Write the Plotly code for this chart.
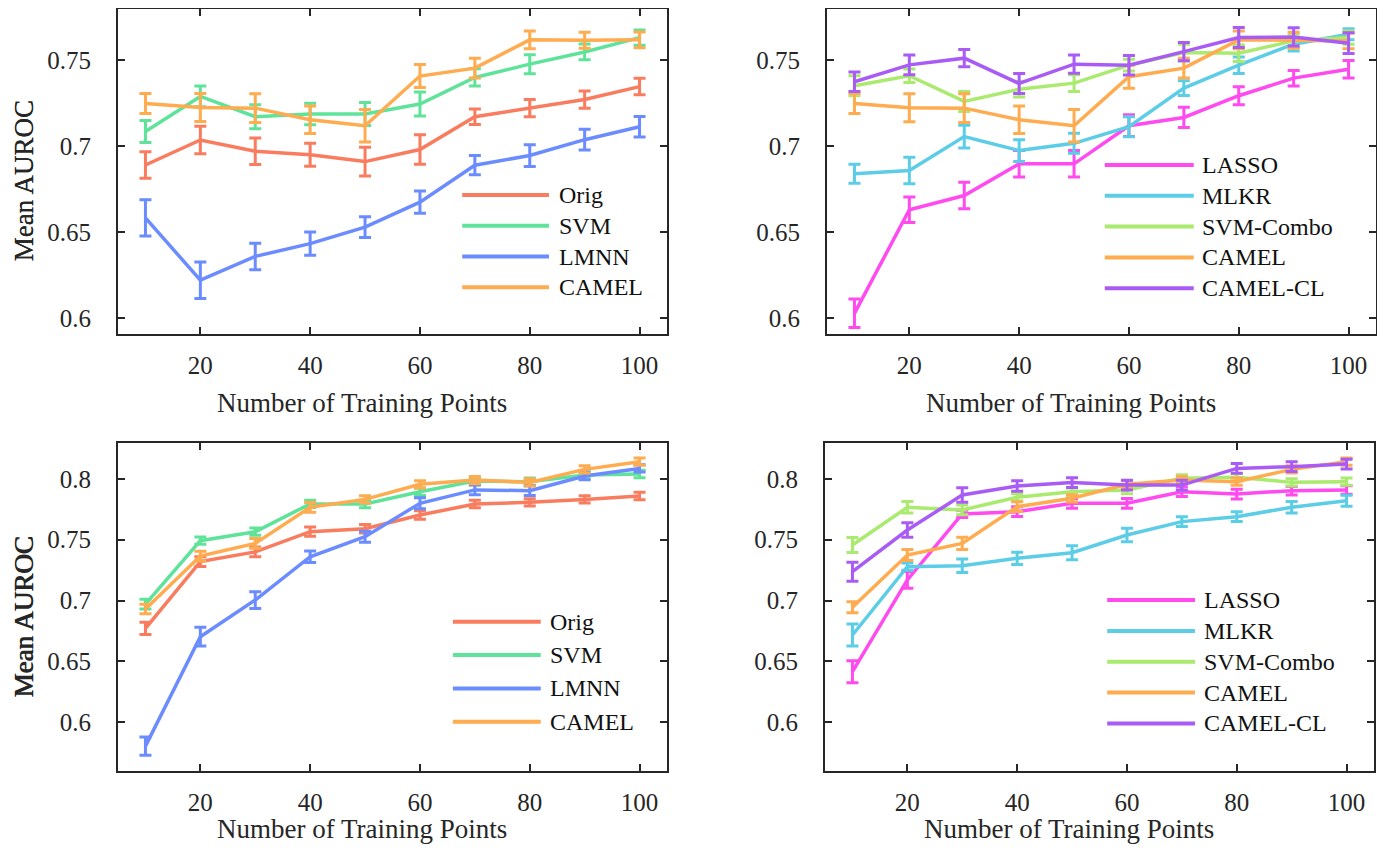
import plotly.graph_objects as go

# ---------------- data ----------------
X = [10, 20, 30, 40, 50, 60, 70, 80, 90, 100]
X_TICKS = [20, 40, 60, 80, 100]
Y_TICKS_TOP = [0.6, 0.65, 0.7, 0.75]
Y_TICKS_BOT = [0.6, 0.65, 0.7, 0.75, 0.8]

# top-left panel
TL_NAMES = ["Orig", "SVM", "LMNN", "CAMEL"]
TL_ORIG = [0.689, 0.7035, 0.697, 0.695, 0.691, 0.698, 0.717, 0.722, 0.727, 0.7345]
TL_ORIG_ERR = [0.0077, 0.008, 0.0077, 0.0067, 0.0083, 0.0086, 0.0045, 0.005, 0.005, 0.0048]
TL_SVM = [0.7085, 0.7288, 0.717, 0.7186, 0.7186, 0.7244, 0.7398, 0.7475, 0.7546, 0.7629]
TL_SVM_ERR = [0.0064, 0.006, 0.007, 0.0063, 0.0067, 0.007, 0.005, 0.0055, 0.0046, 0.0044]
TL_LMNN = [0.6584, 0.6222, 0.636, 0.6434, 0.653, 0.6675, 0.6889, 0.6945, 0.7037, 0.7112]
TL_LMNN_ERR = [0.0105, 0.0106, 0.0077, 0.0067, 0.006, 0.0065, 0.0056, 0.0063, 0.006, 0.006]
TL_CAMEL = [0.7247, 0.7224, 0.722, 0.7153, 0.7118, 0.7406, 0.7452, 0.7616, 0.7614, 0.7616]
TL_CAMEL_ERR = [0.0058, 0.0081, 0.0083, 0.008, 0.0094, 0.0067, 0.0057, 0.0051, 0.0046, 0.0046]

# top-right panel
TR_NAMES = ["LASSO", "MLKR", "SVM-Combo", "CAMEL", "CAMEL-CL"]
TR_LASSO = [0.603, 0.6631, 0.6713, 0.6897, 0.6897, 0.7118, 0.7166, 0.7292, 0.7394, 0.7446]
TR_LASSO_ERR = [0.0083, 0.0074, 0.0077, 0.0077, 0.0077, 0.0063, 0.0059, 0.0052, 0.0045, 0.0051]
TR_MLKR = [0.6839, 0.6858, 0.7055, 0.6974, 0.7016, 0.7112, 0.7336, 0.7469, 0.7591, 0.7648]
TR_MLKR_ERR = [0.0055, 0.0077, 0.0066, 0.0063, 0.0058, 0.0058, 0.0043, 0.0048, 0.0039, 0.0032]
TR_COMBO = [0.735, 0.7408, 0.7259, 0.733, 0.7365, 0.7469, 0.7542, 0.7538, 0.761, 0.7629]
TR_COMBO_ERR = [0.0058, 0.0039, 0.0058, 0.0046, 0.0048, 0.0034, 0.0048, 0.0048, 0.004, 0.0039]
TR_CAMEL = [0.7247, 0.7222, 0.722, 0.7153, 0.7118, 0.7402, 0.7452, 0.7616, 0.7614, 0.761]
TR_CAMEL_ERR = [0.0058, 0.0081, 0.0083, 0.008, 0.0094, 0.0067, 0.0057, 0.0051, 0.0046, 0.0046]
TR_CL = [0.7373, 0.7471, 0.751, 0.7363, 0.7475, 0.7469, 0.7548, 0.7629, 0.7633, 0.7597]
TR_CL_ERR = [0.0057, 0.0057, 0.005, 0.0058, 0.0053, 0.0057, 0.0053, 0.0058, 0.0053, 0.006]

# bottom-left panel
BL_NAMES = ["Orig", "SVM", "LMNN", "CAMEL"]
BL_ORIG = [0.677, 0.732, 0.740, 0.7566, 0.759, 0.7703, 0.7794, 0.7808, 0.7832, 0.786]
BL_ORIG_ERR = [0.005, 0.004, 0.004, 0.0038, 0.0035, 0.0035, 0.003, 0.003, 0.003, 0.003]
BL_SVM = [0.697, 0.7492, 0.7566, 0.7795, 0.7794, 0.7895, 0.7983, 0.7978, 0.8033, 0.8041]
BL_SVM_ERR = [0.004, 0.003, 0.003, 0.003, 0.003, 0.003, 0.003, 0.003, 0.003, 0.003]
BL_LMNN = [0.5802, 0.6702, 0.7004, 0.736, 0.7525, 0.780, 0.791, 0.7904, 0.8024, 0.8087]
BL_LMNN_ERR = [0.0075, 0.0077, 0.0069, 0.0048, 0.0045, 0.0045, 0.004, 0.004, 0.003, 0.003]
BL_CAMEL = [0.693, 0.7366, 0.747, 0.7767, 0.7832, 0.7956, 0.7991, 0.7972, 0.8079, 0.8142]
BL_CAMEL_ERR = [0.004, 0.004, 0.004, 0.004, 0.003, 0.003, 0.003, 0.003, 0.003, 0.003]

# bottom-right panel
BR_NAMES = ["LASSO", "MLKR", "SVM-Combo", "CAMEL", "CAMEL-CL"]
BR_LASSO = [0.6414, 0.7169, 0.7712, 0.7731, 0.780, 0.780, 0.7895, 0.7876, 0.7904, 0.7909]
BR_LASSO_ERR = [0.009, 0.0069, 0.003, 0.004, 0.004, 0.004, 0.004, 0.004, 0.0035, 0.0035]
BR_MLKR = [0.6716, 0.7278, 0.7286, 0.7347, 0.7393, 0.7539, 0.7649, 0.769, 0.7767, 0.7821]
BR_MLKR_ERR = [0.009, 0.003, 0.0055, 0.005, 0.0058, 0.0055, 0.004, 0.004, 0.0048, 0.0045]
BR_COMBO = [0.7457, 0.7767, 0.7745, 0.7849, 0.7895, 0.7909, 0.8005, 0.8014, 0.7972, 0.7978]
BR_COMBO_ERR = [0.0062, 0.0048, 0.004, 0.003, 0.003, 0.003, 0.003, 0.003, 0.003, 0.003]
BR_CAMEL = [0.6944, 0.7374, 0.747, 0.7772, 0.7841, 0.7956, 0.7991, 0.7978, 0.8079, 0.8142]
BR_CAMEL_ERR = [0.0045, 0.0045, 0.005, 0.004, 0.003, 0.003, 0.003, 0.003, 0.003, 0.003]
BR_CL = [0.7237, 0.758, 0.7868, 0.7942, 0.797, 0.795, 0.795, 0.8087, 0.8101, 0.8123]
BR_CL_ERR = [0.0078, 0.006, 0.006, 0.0043, 0.004, 0.004, 0.004, 0.004, 0.004, 0.004]

X_TITLE = "Number of Training Points"
Y_TITLE = "Mean AUROC"

# ---------------- styles ----------------
C_ORIG = "#fa7c5f"
C_SVM = "#5fe39a"
C_LMNN = "#6b8cff"
C_CAMEL = "#ffab4f"
C_LASSO = "#ff4af0"
C_MLKR = "#5ccde6"
C_COMBO = "#aaea6e"
C_CL = "#a95cf5"
FONT = "Liberation Serif"
AX_COLOR = "#262626"

panels = [
    ("", TL_NAMES, [TL_ORIG, TL_SVM, TL_LMNN, TL_CAMEL],
     [TL_ORIG_ERR, TL_SVM_ERR, TL_LMNN_ERR, TL_CAMEL_ERR],
     [C_ORIG, C_SVM, C_LMNN, C_CAMEL],
     dict(x0=0.627, x1=0.785, xt=0.800, y0=0.428, dy=0.0948)),
    ("2", TR_NAMES, [TR_LASSO, TR_MLKR, TR_COMBO, TR_CAMEL, TR_CL],
     [TR_LASSO_ERR, TR_MLKR_ERR, TR_COMBO_ERR, TR_CAMEL_ERR, TR_CL_ERR],
     [C_LASSO, C_MLKR, C_COMBO, C_CAMEL, C_CL],
     dict(x0=0.506, x1=0.668, xt=0.679, y0=0.520, dy=0.0948)),
    ("3", BL_NAMES, [BL_ORIG, BL_SVM, BL_LMNN, BL_CAMEL],
     [BL_ORIG_ERR, BL_SVM_ERR, BL_LMNN_ERR, BL_CAMEL_ERR],
     [C_ORIG, C_SVM, C_LMNN, C_CAMEL],
     dict(x0=0.610, x1=0.770, xt=0.783, y0=0.455, dy=0.1017)),
    ("4", BR_NAMES, [BR_LASSO, BR_MLKR, BR_COMBO, BR_CAMEL, BR_CL],
     [BR_LASSO_ERR, BR_MLKR_ERR, BR_COMBO_ERR, BR_CAMEL_ERR, BR_CL_ERR],
     [C_LASSO, C_MLKR, C_COMBO, C_CAMEL, C_CL],
     dict(x0=0.514, x1=0.674, xt=0.687, y0=0.521, dy=0.094)),
]

# page is 1385x854; the html body has an 8px margin, so the figure is 16px smaller
OFF = 8
W, H = 1385 - 2 * OFF, 854 - 2 * OFF
# panel frames in page pixels
doms_x = [(118, 667), (827, 1376), (118, 667), (825, 1374)]
doms_y = [(9, 334), (9, 334), (443, 771), (443, 771)]
yranges = [(0.591, 0.7795), (0.591, 0.7795), (0.5597, 0.8296), (0.5597, 0.8296)]
yticks = [Y_TICKS_TOP, Y_TICKS_TOP, Y_TICKS_BOT, Y_TICKS_BOT]
xtitle_page_y = [403, 403, 829, 829]
ytitle_page_x = 24

fig = go.Figure()
shapes = []
annotations = []
layout = {}

for i, (suf, names, series, errs, colors, lg) in enumerate(panels):
    xa, ya = "x" + suf, "y" + suf
    for name, ys, es, col in zip(names, series, errs, colors):
        fig.add_trace(go.Scatter(
            x=X, y=ys, name=name, mode="lines", xaxis=xa, yaxis=ya,
            line=dict(color=col, width=3.5),
            error_y=dict(type="data", array=es, visible=True, color=col,
                         thickness=3, width=6),
            showlegend=False,
        ))
    px0, px1 = doms_x[i][0] - OFF, doms_x[i][1] - OFF
    py0, py1 = doms_y[i][0] - OFF, doms_y[i][1] - OFF
    common = dict(showline=True, linecolor=AX_COLOR, linewidth=2, mirror="ticks",
                  ticks="inside", ticklen=7, tickwidth=2, tickcolor=AX_COLOR,
                  showgrid=False, zeroline=False,
                  tickfont=dict(family=FONT, size=25, color=AX_COLOR))
    layout["xaxis" + suf] = dict(common, domain=[px0 / W, px1 / W], range=[5, 105],
                                 tickvals=X_TICKS, anchor=ya, ticklabelstandoff=8)
    layout["yaxis" + suf] = dict(common, domain=[1 - py1 / H, 1 - py0 / H],
                                 range=list(yranges[i]), tickvals=yticks[i],
                                 ticktext=[f"{v:g}" for v in yticks[i]],
                                 anchor=xa, ticklabelstandoff=20)
    xd, yd = xa + " domain", ya + " domain"
    hpx = py1 - py0
    wpx = px1 - px0
    annotations.append(dict(text=X_TITLE, xref=xd, yref=yd, x=0.445,
                            y=(py1 - (xtitle_page_y[i] - OFF)) / hpx, showarrow=False,
                            xanchor="center", yanchor="middle",
                            font=dict(family=FONT, size=27, color=AX_COLOR)))
    annotations.append(dict(text=Y_TITLE, xref=xd, yref=yd,
                            x=((ytitle_page_x - OFF) - px0) / wpx, y=0.47,
                            showarrow=False, textangle=-90,
                            xanchor="center", yanchor="middle",
                            font=dict(family=FONT, size=27, color=AX_COLOR)))
    for k, (name, col) in enumerate(zip(names, colors)):
        yy = lg["y0"] - k * lg["dy"]
        shapes.append(dict(type="line", xref=xd, yref=yd, x0=lg["x0"], x1=lg["x1"],
                           y0=yy, y1=yy, line=dict(color=col, width=4)))
        annotations.append(dict(text=name, xref=xd, yref=yd, x=lg["xt"], y=yy,
                                showarrow=False, xanchor="left", yanchor="middle",
                                font=dict(family=FONT, size=24, color="#111111")))

fig.update_layout(
    width=W, height=H, margin=dict(l=0, r=0, t=0, b=0),
    paper_bgcolor="white", plot_bgcolor="white",
    showlegend=False, shapes=shapes, annotations=annotations,
    **layout,
)

fig.write_html("out.html")
